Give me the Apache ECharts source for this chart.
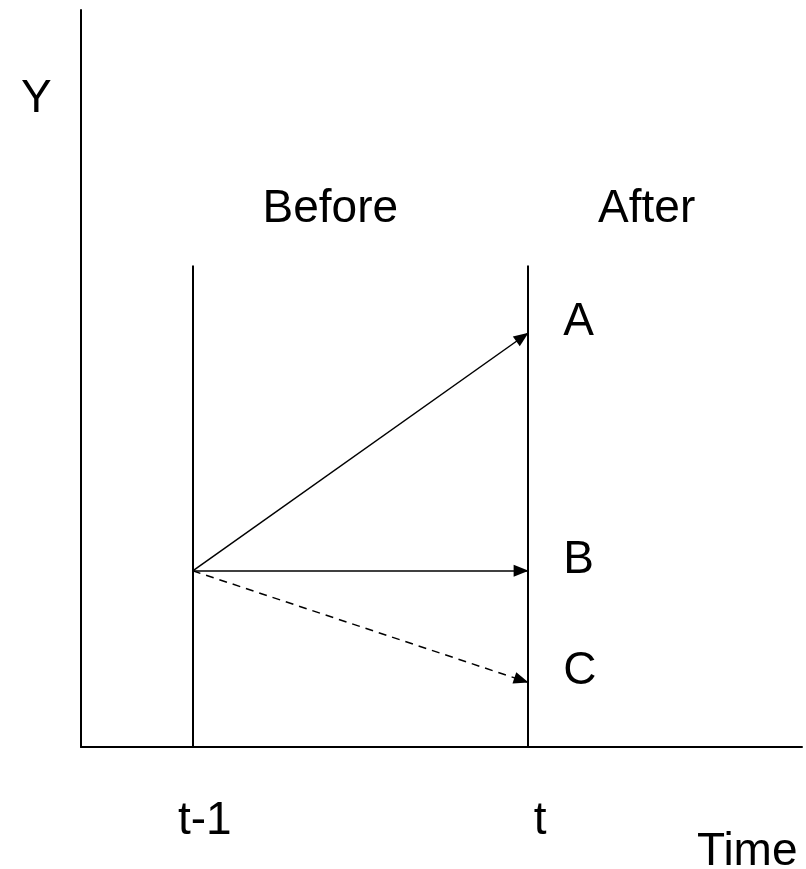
<!DOCTYPE html>
<html>
<head>
<meta charset="utf-8">
<script src="https://cdn.jsdelivr.net/npm/echarts@6/dist/echarts.min.js"></script>
<style>
  html, body { margin: 0; padding: 0; background: #fff; }
  #main { width: 806px; height: 869px; }
</style>
</head>
<body>
<div id="main"></div>
<script>
// time points on the x axis
const tickValues = [1, 4]
const tickLabels = ['t-1', 't']

// before / after boundary lines
const boundaryTop = 8.2

// arrows start at (t-1, startY) and end at t
const startY = 3
const outcomeNames = ['A', 'B', 'C']
const outcomeY = [7.05, 3, 1.1]

// period labels
const periodNames = ['Before', 'After']
const periodX = [2.23, 5.06]
const periodY = 9.15

const font = '"Liberation Sans", Arial, sans-serif'
const chart = echarts.init(document.getElementById('main'))

const arrowLines = outcomeNames.map((n, i) => [
  { coord: [tickValues[0], startY] },
  {
    coord: [tickValues[1], outcomeY[i]],
    lineStyle: { type: i === 2 ? [8, 6] : 'solid' }
  }
])

chart.setOption({
  animation: false,
  grid: { left: 81, right: 4, top: 10, bottom: 122 },
  xAxis: {
    type: 'value',
    min: 0,
    max: 6.45,
    axisLine: { show: true, lineStyle: { color: '#000', width: 2 } },
    axisTick: { show: false },
    splitLine: { show: false },
    axisLabel: {
      customValues: tickValues,
      formatter: v => tickLabels[tickValues.indexOf(v)],
      color: '#000',
      fontSize: 46,
      fontFamily: font,
      margin: 51,
      padding: [0, 0, 0, 24]
    }
  },
  yAxis: {
    type: 'value',
    min: 0,
    max: 12.55,
    axisLine: { show: true, lineStyle: { color: '#000', width: 2 } },
    axisTick: { show: false },
    axisLabel: { show: false },
    splitLine: { show: false }
  },
  graphic: [
    {
      type: 'text', left: 21, top: 76,
      style: { text: 'Y', fontSize: 46, fontFamily: font, fill: '#000' }
    },
    {
      type: 'text', left: 697, top: 829,
      style: { text: 'Time', fontSize: 46, fontFamily: font, fill: '#000' }
    }
  ],
  series: [
    {
      name: 'boundaries',
      type: 'line',
      data: [],
      markLine: {
        silent: true,
        symbol: ['none', 'none'],
        label: { show: false },
        lineStyle: { color: '#000', width: 2, type: 'solid' },
        data: tickValues.map(x => [{ coord: [x, 0] }, { coord: [x, boundaryTop] }])
      }
    },
    {
      name: 'arrows',
      type: 'line',
      data: [],
      markLine: {
        silent: true,
        symbol: ['none', 'triangle'],
        symbolSize: [12, 15],
        symbolOffset: [0, [0, 7]],
        label: { show: false },
        lineStyle: { color: '#000', width: 1.5 },
        itemStyle: { color: '#000' },
        data: arrowLines
      }
    },
    {
      name: 'outcomes',
      type: 'scatter',
      symbolSize: 0,
      itemStyle: { opacity: 1 },
      data: outcomeNames.map((n, i) => ({ name: n, value: [tickValues[1], outcomeY[i]] })),
      label: {
        show: true,
        position: 'right',
        distance: 35,
        offset: [0, -11],
        formatter: p => p.name,
        color: '#000',
        fontSize: 46,
        fontFamily: font
      }
    },
    {
      name: 'periods',
      type: 'scatter',
      symbolSize: 0,
      itemStyle: { opacity: 1 },
      data: periodNames.map((n, i) => ({ name: n, value: [periodX[i], periodY] })),
      label: {
        show: true,
        position: 'inside',
        formatter: p => p.name,
        color: '#000',
        fontSize: 46,
        fontFamily: font
      }
    }
  ]
})
</script>
</body>
</html>
